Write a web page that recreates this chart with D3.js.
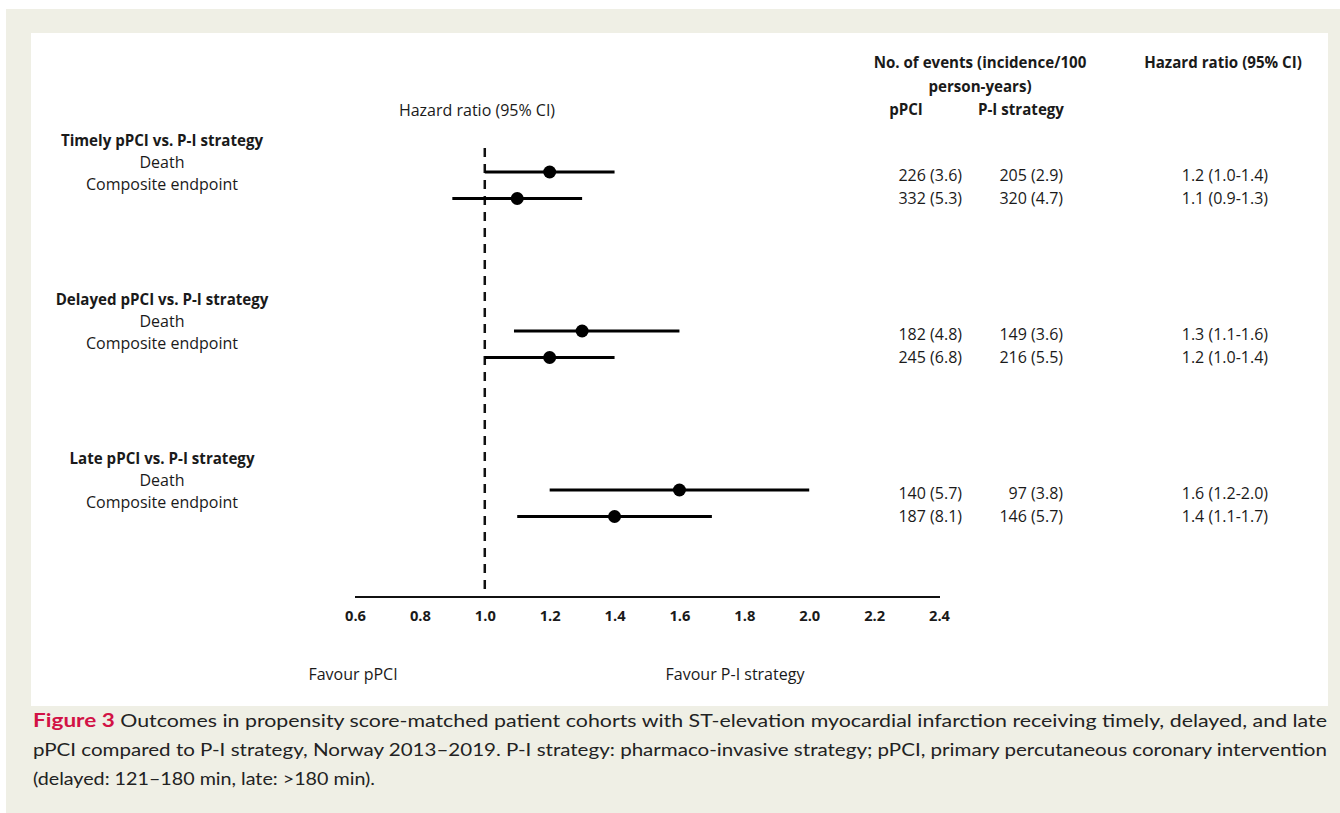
<!DOCTYPE html>
<html>
<head>
<meta charset="utf-8">
<script src="https://cdn.jsdelivr.net/npm/d3@7"></script>
<style>
  html, body { margin: 0; padding: 0; background: #ffffff; }
  svg { display: block; }
</style>
</head>
<body>
<svg id="chart" width="1340" height="813"></svg>
<script>
// ---------- DATA ----------
const groups = ["Timely pPCI vs. P-I strategy", "Delayed pPCI vs. P-I strategy", "Late pPCI vs. P-I strategy"];
const outcomes = ["Death", "Composite endpoint"];
const hrPoint = [1.2, 1.1, 1.3, 1.2, 1.6, 1.4];
const hrLower = [1.0, 0.9, 1.09, 1.0, 1.2, 1.1];
const hrUpper = [1.4, 1.3, 1.6, 1.4, 2.0, 1.7];
const eventsPPCI = ["226 (3.6)", "332 (5.3)", "182 (4.8)", "245 (6.8)", "140 (5.7)", "187 (8.1)"];
const eventsPI = ["205 (2.9)", "320 (4.7)", "149 (3.6)", "216 (5.5)", "97 (3.8)", "146 (5.7)"];
const hrText = ["1.2 (1.0-1.4)", "1.1 (0.9-1.3)", "1.3 (1.1-1.6)", "1.2 (1.0-1.4)", "1.6 (1.2-2.0)", "1.4 (1.1-1.7)"];
const xTicks = [0.6, 0.8, 1.0, 1.2, 1.4, 1.6, 1.8, 2.0, 2.2, 2.4];
const referenceHR = 1.0;
const captionLabel = "Figure 3";
const captionLines = [
  "Outcomes in propensity score-matched patient cohorts with ST-elevation myocardial infarction receiving timely, delayed, and late",
  "pPCI compared to P-I strategy, Norway 2013\u20132019. P-I strategy: pharmaco-invasive strategy; pPCI, primary percutaneous coronary intervention",
  "(delayed: 121\u2013180 min, late: >180 min)."
];

// ---------- SETUP ----------
const svg = d3.select("#chart");
const W = 1340, H = 813;
const chartFont = "'Open Sans', 'Noto Sans', sans-serif";
const capFont = "Lato, 'Noto Sans', sans-serif";

// backgrounds
svg.append("rect").attr("x", 6).attr("y", 9).attr("width", W - 6).attr("height", H - 9).attr("fill", "#efefe5");
svg.append("rect").attr("x", 31).attr("y", 33).attr("width", 1328 - 31).attr("height", 706 - 33).attr("fill", "#ffffff");

// helper to fit font size to a target width
function fitSize(text, family, weight, target) {
  const t = svg.append("text").attr("font-family", family).attr("font-weight", weight)
    .attr("font-size", 100).text(text);
  const w = t.node().getComputedTextLength();
  t.remove();
  return 100 * target / w;
}
const fsReg = fitSize("Composite endpoint", chartFont, "normal", 152);
const fsBold = fitSize("Late pPCI vs. P-I strategy", chartFont, "bold", 185);
const fsTick = fitSize("0.6", chartFont, "bold", 21);
const fsCap = 18;

// ---------- SCALES ----------
const x = d3.scaleLinear().domain([0.6, 2.4]).range([355, 939]);
const slot = d3.scaleLinear().domain([0, 1]).range([172, 172 + 26.5]);
const rows = hrPoint.map((d, i) => ({
  g: Math.floor(i / 2), k: i % 2, hr: d, lo: hrLower[i], hi: hrUpper[i],
  e1: eventsPPCI[i], e2: eventsPI[i], ht: hrText[i]
}));
const rowY = r => slot(r.g * 6 + r.k);
const groupY = g => slot(g * 6);

const axisY = 597;

// ---------- HEADERS ----------
function txt(xp, yp, s, opts = {}) {
  return svg.append("text").attr("x", xp).attr("y", yp)
    .attr("font-family", opts.family || chartFont)
    .attr("font-size", opts.size || fsReg)
    .attr("font-weight", opts.weight || "normal")
    .attr("text-anchor", opts.anchor || "middle")
    .attr("dominant-baseline", "central")
    .attr("fill", opts.fill || "#1a1a1a")
    .text(s);
}
txt(477, 110, "Hazard ratio (95% CI)");
txt(980, 62, "No. of events (incidence/100", { weight: "bold", size: fsBold });
txt(980, 86, "person-years)", { weight: "bold", size: fsBold });
txt(906, 109, "pPCI", { weight: "bold", size: fsBold });
txt(1021, 109, "P-I strategy", { weight: "bold", size: fsBold });
txt(1223, 62, "Hazard ratio (95% CI)", { weight: "bold", size: fsBold });

// ---------- LEFT LABELS ----------
groups.forEach((gname, g) => {
  const gy = groupY(g);
  txt(162, gy - 32, gname, { weight: "bold", size: fsBold });
  outcomes.forEach((o, k) => {
    txt(162, gy - 10 + k * 22, o);
  });
});

// ---------- REFERENCE LINE ----------
svg.append("line")
  .attr("x1", x(referenceHR)).attr("x2", x(referenceHR))
  .attr("y1", 148).attr("y2", axisY)
  .attr("stroke", "#111").attr("stroke-width", 2.5)
  .attr("stroke-dasharray", "9,7");

// ---------- AXIS ----------
const axis = d3.axisBottom(x).tickValues(xTicks).tickFormat(d3.format(".1f")).tickSize(0).tickPadding(14);
const ag = svg.append("g").attr("transform", `translate(0,${axisY})`).call(axis);
ag.select(".domain").attr("stroke", "#111").attr("stroke-width", 2.2).attr("d", `M${x(0.6)},0H${x(2.4) + 1}`);
ag.selectAll(".tick text")
  .attr("font-family", chartFont).attr("font-weight", "bold")
  .attr("font-size", fsTick).attr("fill", "#1a1a1a");

txt(353, 674, "Favour pPCI");
txt(735, 674, "Favour P-I strategy");

// ---------- CI LINES & POINTS ----------
svg.selectAll("line.ci").data(rows).join("line").attr("class", "ci")
  .attr("x1", d => x(d.lo)).attr("x2", d => x(d.hi))
  .attr("y1", rowY).attr("y2", rowY)
  .attr("stroke", "#000").attr("stroke-width", 3.2);
svg.selectAll("circle.pt").data(rows).join("circle").attr("class", "pt")
  .attr("cx", d => x(d.hr)).attr("cy", rowY).attr("r", 6.5).attr("fill", "#000");

// ---------- TABLE ----------
rows.forEach(r => {
  const yy = groupY(r.g) + 3 + r.k * 23;
  txt(962, yy, r.e1, { anchor: "end" });
  txt(1063, yy, r.e2, { anchor: "end" });
  txt(1268, yy, r.ht, { anchor: "end" });
});

// ---------- CAPTION ----------
const capBase = [727, 756, 785];
const capLeft = 33, capRight = 1327;
const capWidths = [capRight - capLeft, capRight - capLeft, 342];
captionLines.forEach((line, i) => {
  const t = svg.append("text").attr("x", capLeft).attr("y", capBase[i])
    .attr("font-family", capFont).attr("font-size", fsCap).attr("fill", "#222");
  if (i === 0) {
    t.append("tspan").attr("fill", "#d21245").attr("font-weight", "bold").attr("font-size", fsCap + 1).text(captionLabel);
    t.append("tspan").text("  " + line);
  } else {
    t.text(line);
  }
  t.attr("textLength", capWidths[i]).attr("lengthAdjust", "spacingAndGlyphs");
});
</script>
</body>
</html>
